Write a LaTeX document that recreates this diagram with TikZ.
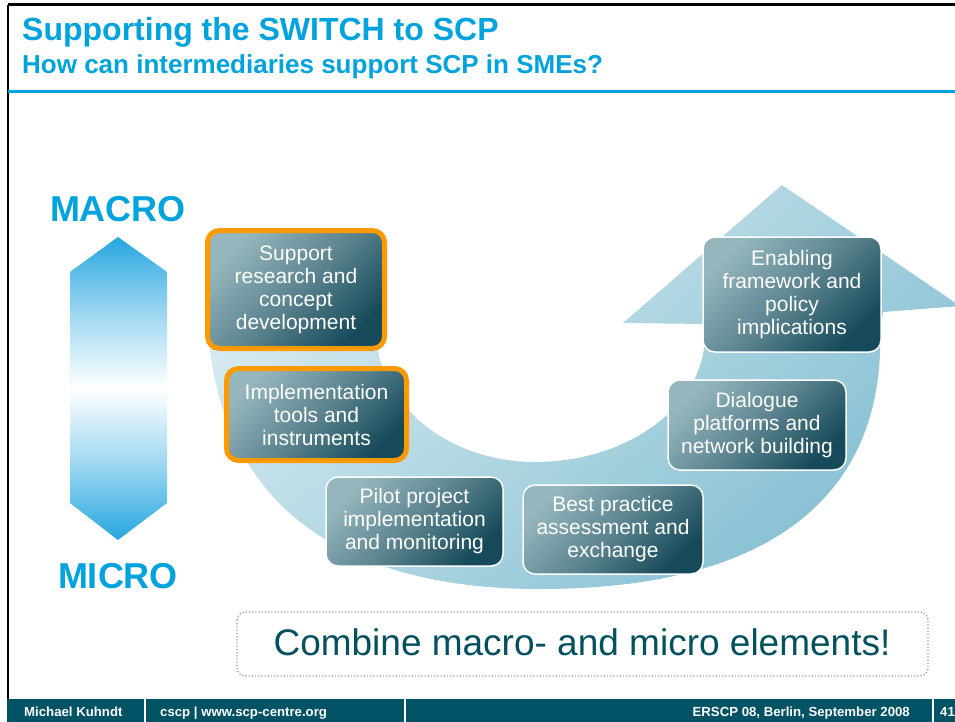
\documentclass[tikz,border=0pt]{standalone}
\usepackage{fontspec}
\setmainfont{Liberation Sans}
\definecolor{titleblue}{RGB}{0,163,221}
\definecolor{footteal}{RGB}{0,82,101}
\definecolor{boxlight}{RGB}{150,182,189}
\definecolor{boxmid}{RGB}{92,133,144}
\definecolor{boxdark}{RGB}{22,74,90}
\definecolor{hlorange}{RGB}{255,153,0}
\definecolor{bandlight}{RGB}{216,235,241}
\definecolor{banddark}{RGB}{132,191,210}
\definecolor{arrblue}{RGB}{38,166,224}
\definecolor{combteal}{RGB}{3,80,95}
\tikzset{
  stepbox/.style={rounded corners=12pt, top color=boxlight, bottom color=boxdark, middle color=boxmid, shading angle=45, text=white, font=\fontsize{21}{23}\selectfont, align=center, inner sep=0pt},
  plainbox/.style={stepbox, draw=white, line width=1.5pt},
  hlbox/.style={stepbox, draw=hlorange, line width=5pt},
  foottext/.style={text=white, font=\bfseries\fontsize{13.2}{13.2}\selectfont, inner sep=0pt},
  bigword/.style={text=titleblue, font=\bfseries\fontsize{36}{36}\selectfont, inner sep=0pt, anchor=base},
}
\begin{document}
\begin{tikzpicture}[x=1pt,y=-1pt]
\useasboundingbox (0,0) rectangle (955,722);
\fill[white] (0,0) rectangle (955,722);
% frame
\draw[black, line width=3pt] (8,5) -- (955,5);
\draw[black, line width=2.5pt] (8,5) -- (8,700);
\draw[titleblue, line width=3pt] (8,92) -- (955,92);
% title
\node[anchor=base west, inner sep=0pt, text=titleblue, font=\bfseries\fontsize{32}{32}\selectfont] (title) at (22,41) {Supporting the SWITCH to SCP};
\node[anchor=base west, inner sep=0pt, text=titleblue, font=\bfseries\fontsize{26}{26}\selectfont] (subtitle) at (22,74) {How can intermediaries support SCP in SMEs?};
% macro / micro
\node[bigword] (macro) at (118,222) {MACRO};
\node[bigword] (micro) at (118,588) {MICRO};
\shade[top color=arrblue, bottom color=white, middle color=arrblue!45!white] (118,237) -- (167,272) -- (167,389) -- (70,389) -- (70,272) -- cycle;
\shade[top color=white, bottom color=arrblue, middle color=arrblue!45!white] (70,388) -- (167,388) -- (167,503) -- (118,540) -- (70,503) -- cycle;
% curved arrow band
\shade[top color=bandlight, bottom color=banddark, shading angle=40]
  (208,250) -- (207,300)
  .. controls (207,486) and (320,589) .. (540,589)
  .. controls (790,589) and (885,480) .. (880,330)
  -- (883,312) -- (960,306) -- (782,185) -- (623,323) -- (705,324) -- (705,335)
  .. controls (705,405) and (629,462) .. (535,462)
  .. controls (447,462) and (376,403) .. (376,330)
  -- (376,250) -- cycle;
% step boxes
\node[hlbox, minimum width=177pt, minimum height=118pt] (support) at (296,289.5) {Support\\research and\\concept\\development};
\node[hlbox, minimum width=180pt, minimum height=92pt] (impl) at (316.5,414.5) {Implementation\\tools and\\instruments};
\node[plainbox, minimum width=177pt, minimum height=89pt] (pilot) at (414.5,521.5) {Pilot project\\implementation\\and monitoring};
\node[plainbox, minimum width=180pt, minimum height=89pt] (best) at (613,529.5) {Best practice\\assessment and\\exchange};
\node[plainbox, minimum width=178pt, minimum height=90pt] (dialog) at (757,425) {Dialogue\\platforms and\\network building};
\node[plainbox, minimum width=178pt, minimum height=115pt] (enable) at (792,294.5) {Enabling\\framework and\\policy\\implications};
% combine box
\draw[gray!80, line width=1.2pt, dotted, rounded corners=8pt] (237,612) rectangle (928,676);
\node[anchor=base, inner sep=0pt, text=combteal, font=\fontsize{37}{37}\selectfont] (combine) at (582,655) {Combine macro- and micro elements!};
% footer
\fill[footteal] (7,699) rectangle (955,722);
\draw[white, line width=2pt] (145,699) -- (145,722);
\draw[white, line width=2pt] (405,699) -- (405,722);
\draw[white, line width=2pt] (933,699) -- (933,722);
\node[foottext, anchor=base west] (author) at (24,716) {Michael Kuhndt};
\node[foottext, anchor=base west] (web) at (160,716) {cscp | www.scp-centre.org};
\node[foottext, anchor=base east] (conf) at (910,716) {ERSCP 08, Berlin, September 2008};
\node[foottext, anchor=base west] (page) at (940,716) {41};
\end{tikzpicture}
\end{document}
